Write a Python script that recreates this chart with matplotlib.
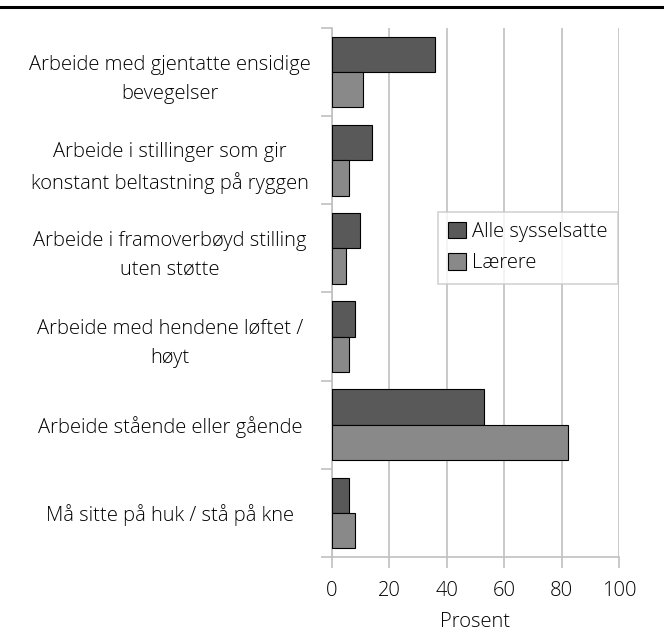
import numpy as np
import matplotlib
matplotlib.use("Agg")
from matplotlib import pyplot as plt
from matplotlib.lines import Line2D

# data
categories = [
    "Arbeide med gjentatte ensidige\nbevegelser",
    "Arbeide i stillinger som gir\nkonstant beltastning på ryggen",
    "Arbeide i framoverbøyd stilling\nuten støtte",
    "Arbeide med hendene løftet /\nhøyt",
    "Arbeide stående eller gående",
    "Må sitte på huk / stå på kne",
]
alle = [36, 14, 10, 8, 53, 6]
laerere = [11, 6, 5, 6, 82, 8]
series_names = ["Alle sysselsatte", "Lærere"]
xticks = [0, 20, 40, 60, 80, 100]

plt.rcParams['font.family'] = ['Open Sans', 'DejaVu Sans']
plt.rcParams['font.size'] = 14.5
plt.rcParams['font.weight'] = 'light'
plt.rcParams['axes.labelweight'] = 'light'
plt.rcParams['text.color'] = 'black'

fig = plt.figure(figsize=(6.64, 6.32), dpi=100)
ax = fig.add_axes([0.4996, 0.1187, 0.4331, 0.837])

grid_c = '#c0c0c0'
y = np.arange(len(categories))
h = 0.4
ax.barh(y - h / 2, alle, height=h, color='#595959', edgecolor='black', linewidth=0.8,
        label=series_names[0], zorder=3)
ax.barh(y + h / 2, laerere, height=h, color='#898989', edgecolor='black', linewidth=0.8,
        label=series_names[1], zorder=3)

ax.set_ylim(len(categories) - 0.5, -0.5)
ax.set_xlim(0, 100)
ax.set_xticks(xticks)
ax.set_xticklabels([str(t) for t in xticks])
ax.set_yticks(np.arange(-0.5, len(categories), 1.0))
ax.set_yticklabels([])
ax.set_yticks(y, minor=True)
ax.set_yticklabels(categories, minor=True, ha='center', multialignment='center',
                   linespacing=1.6)
ax.tick_params(axis='y', which='minor', length=0, pad=0)
for lab in ax.get_yticklabels(minor=True):
    lab.set_x(-0.562)
ax.tick_params(axis='y', which='major', length=8, width=1.2, color=grid_c)
ax.tick_params(axis='x', length=8, width=1.2, color=grid_c, pad=9)

ax.grid(axis='x', color=grid_c, linewidth=1.2, zorder=0)
ax.set_axisbelow(True)
for s in ['top', 'right']:
    ax.spines[s].set_visible(False)
for s in ['left', 'bottom']:
    ax.spines[s].set_color(grid_c)
    ax.spines[s].set_linewidth(1.2)

ax.set_xlabel('Prosent', labelpad=8)

leg = ax.legend(loc='upper left', bbox_to_anchor=(0.3686, 0.6527), frameon=True, fancybox=False,
                edgecolor='#c8c8c8', handlelength=0.9, handleheight=0.9, handletextpad=0.3,
                borderpad=0.5, labelspacing=0.55, borderaxespad=0)
leg.get_frame().set_linewidth(1.2)

fig.add_artist(Line2D([0, 1], [0.989, 0.989], color='black', linewidth=2.2,
                      transform=fig.transFigure))

fig.savefig('out.png', dpi=100)
